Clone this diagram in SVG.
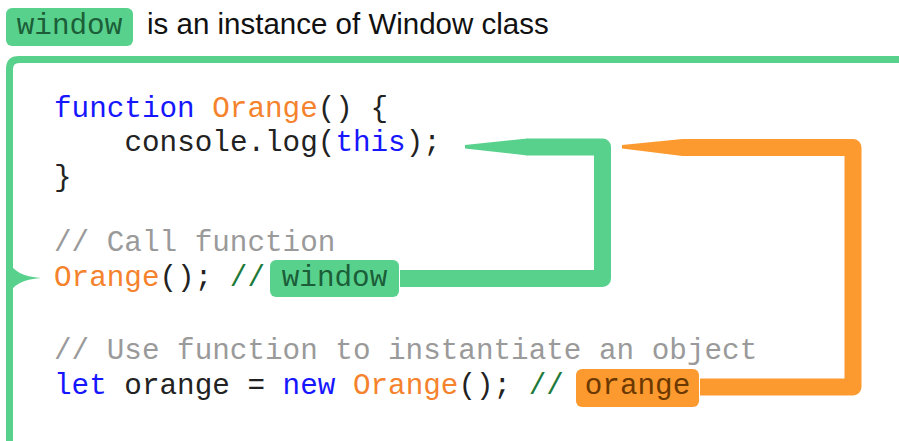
<svg xmlns="http://www.w3.org/2000/svg" width="899" height="441" viewBox="0 0 899 441">
<style>
.code{font-family:"Liberation Mono","DejaVu Sans Mono",monospace;font-size:29.3px;white-space:pre;}
.kw{fill:#1616ff}.fn{fill:#f5822c}.tx{fill:#222}.cm{fill:#9a9a9a}.sl{fill:#1e7a3a}
.gfill{fill:#58d18d}.ofill{fill:#fd9a2f}
.gline{fill:none;stroke:#58d18d;stroke-width:17;stroke-linejoin:round}
.oline{fill:none;stroke:#fd9a2f;stroke-width:17;stroke-linejoin:round}
</style>
<rect width="899" height="441" fill="#ffffff"/>
<g id="header">
<rect x="6" y="8" width="127" height="38" rx="6" class="gfill"/>
<text x="69.5" y="34" text-anchor="middle" class="code" fill="#1b5e38">window</text>
<text x="147" y="34" font-family="Liberation Sans, Arial, sans-serif" font-size="29.5" fill="#111">is an instance of Window class</text>
</g>
<g id="frame">
<path d="M9.5 445 V69 Q9.5 59.5 19 59.5 H905" fill="none" stroke="#58d18d" stroke-width="7"/>
<path d="M9 261 Q14 276 41 278 Q14 280 9 295 Z" class="gfill"/>
</g>
<g id="code" class="code">
<text x="54" y="117"><tspan class="kw">function</tspan><tspan class="tx"> </tspan><tspan class="fn">Orange</tspan><tspan class="tx">() {</tspan></text>
<text x="124.4" y="151"><tspan class="tx">console.log(</tspan><tspan class="kw">this</tspan><tspan class="tx">);</tspan></text>
<text x="54" y="186"><tspan class="tx">}</tspan></text>
<text x="54" y="251"><tspan class="cm">// Call function</tspan></text>
<text x="54" y="286"><tspan class="fn">Orange</tspan><tspan class="tx">(); </tspan><tspan class="sl">//</tspan></text>
<text x="54" y="359"><tspan class="cm">// Use function to instantiate an object</tspan></text>
<text x="54" y="394"><tspan class="kw">let</tspan><tspan class="tx"> orange = </tspan><tspan class="kw">new</tspan><tspan class="tx"> </tspan><tspan class="fn">Orange</tspan><tspan class="tx">(); </tspan><tspan class="sl">//</tspan></text>
</g>
<g id="label-window">
<rect x="270" y="260" width="129" height="37" rx="6" class="gfill"/>
<text x="334.5" y="286" text-anchor="middle" class="code" fill="#1b5e38">window</text>
</g>
<g id="label-orange">
<rect x="576" y="369" width="123" height="38" rx="6" class="ofill"/>
<text x="637.5" y="394" text-anchor="middle" class="code" fill="#6b3800">orange</text>
</g>
<g id="connectors">
<path d="M400 278.5 H602.5 V147 H527" class="gline"/>
<polygon points="527.5,138.5 465,145 465,148.5 527.5,155.5" class="gfill"/>
<path d="M700 387 H853 V147.5 H682" class="oline"/>
<polygon points="682.5,139 622,145 622,148.5 682.5,156" class="ofill"/>
</g>
</svg>
